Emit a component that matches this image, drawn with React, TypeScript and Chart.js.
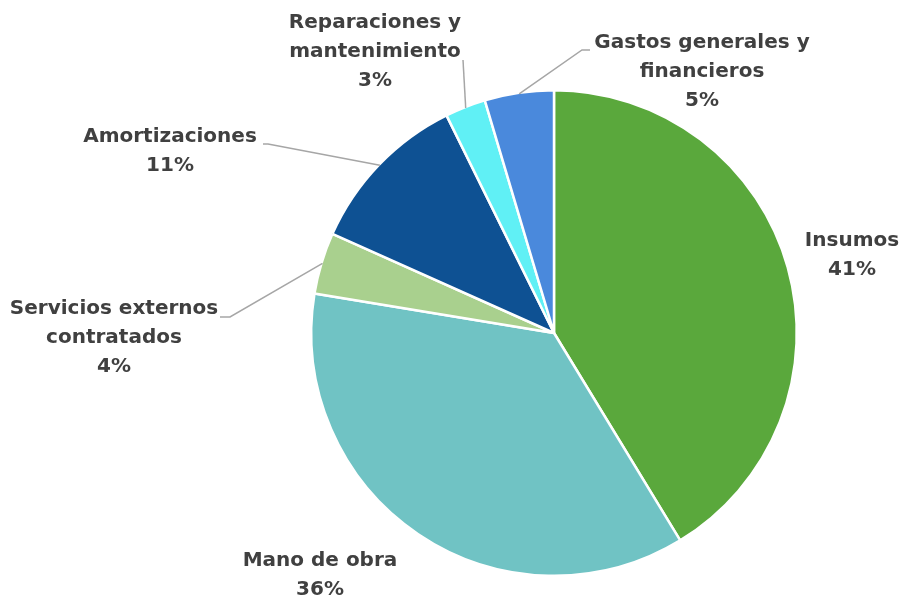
import React, { useEffect, useRef } from "react";
import { Chart, registerables } from "chart.js";

Chart.register(...registerables);

const categories: string[] = [
  "Insumos",
  "Mano de obra",
  "Servicios externos\ncontratados",
  "Amortizaciones",
  "Reparaciones y\nmantenimiento",
  "Gastos generales y\nfinancieros",
];
const shares: number[] = [41.3, 36.3, 4.1, 11.0, 2.7, 4.6];
const colors: string[] = ["#5aa83c", "#70c3c4", "#a9d08e", "#0e5193", "#60f0f5", "#4a89dc"];

// label placement relative to the pie centre (text centre x, first-line middle y)
const labelOffsets: [number, number][] = [
  [298, -92],
  [-234, 228],
  [-440, -24],
  [-384, -196],
  [-179, -310],
  [148, -290],
];
// leader-line start and elbow relative to the pie centre (null = no leader)
const leaderStarts: ([number, number, number, number] | null)[] = [
  null,
  null,
  [-334, -16, -324, -16],
  [-291, -189, -286, -189],
  [-91, -273, -91, -273],
  [36, -283, 28, -283],
];

const FONT = "bold 20px 'DejaVu Sans'";
const TEXT_COLOR = "#404040";
const LINE_H = 29;

const labelPlugin = {
  id: "outerLabels",
  afterDraw(chart: any) {
    const ctx: CanvasRenderingContext2D = chart.ctx;
    const meta = chart.getDatasetMeta(0);
    const data: number[] = chart.data.datasets[0].data;
    const total = data.reduce((a, b) => a + b, 0);
    ctx.save();
    meta.data.forEach((arc: any, i: number) => {
      const { x, y, startAngle, endAngle, outerRadius } = arc.getProps(
        ["x", "y", "startAngle", "endAngle", "outerRadius"],
        true
      );
      const mid = (startAngle + endAngle) / 2;
      const ax = x + Math.cos(mid) * (outerRadius - 1);
      const ay = y + Math.sin(mid) * (outerRadius - 1);
      const ls = leaderStarts[i];
      if (ls) {
        ctx.beginPath();
        ctx.strokeStyle = "#a6a6a6";
        ctx.lineWidth = 1.5;
        ctx.moveTo(x + ls[0], y + ls[1]);
        ctx.lineTo(x + ls[2], y + ls[3]);
        ctx.lineTo(ax, ay);
        ctx.stroke();
      }
      const [ox, oy] = labelOffsets[i];
      const lines = String(chart.data.labels[i]).split("\n");
      lines.push(Math.round((data[i] / total) * 100) + "%");
      ctx.font = FONT;
      ctx.fillStyle = TEXT_COLOR;
      ctx.textAlign = "center";
      ctx.textBaseline = "middle";
      lines.forEach((t, k) => {
        ctx.fillText(t, x + ox, y + oy + k * LINE_H);
      });
    });
    ctx.restore();
  },
};

export default function App() {
  const ref = useRef<HTMLCanvasElement>(null);
  useEffect(() => {
    if (!ref.current) return;
    const chart = new Chart(ref.current, {
      type: "pie",
      data: {
        labels: categories,
        datasets: [
          {
            data: shares,
            backgroundColor: colors,
            borderColor: "#ffffff",
            borderWidth: 2.5,
          },
        ],
      },
      options: {
        responsive: false,
        animation: false,
        layout: { padding: { left: 310, right: 105, top: 89, bottom: 22 } },
        plugins: {
          legend: { display: false },
          tooltip: { enabled: false },
        },
      },
      plugins: [labelPlugin],
    });
    return () => chart.destroy();
  }, []);
  return (
    <div style={{ position: "fixed", left: 0, top: 0, width: 903, height: 599, background: "#fff" }}>
      <canvas ref={ref} width={903} height={599} style={{ width: 903, height: 599, display: "block" }} />
    </div>
  );
}
